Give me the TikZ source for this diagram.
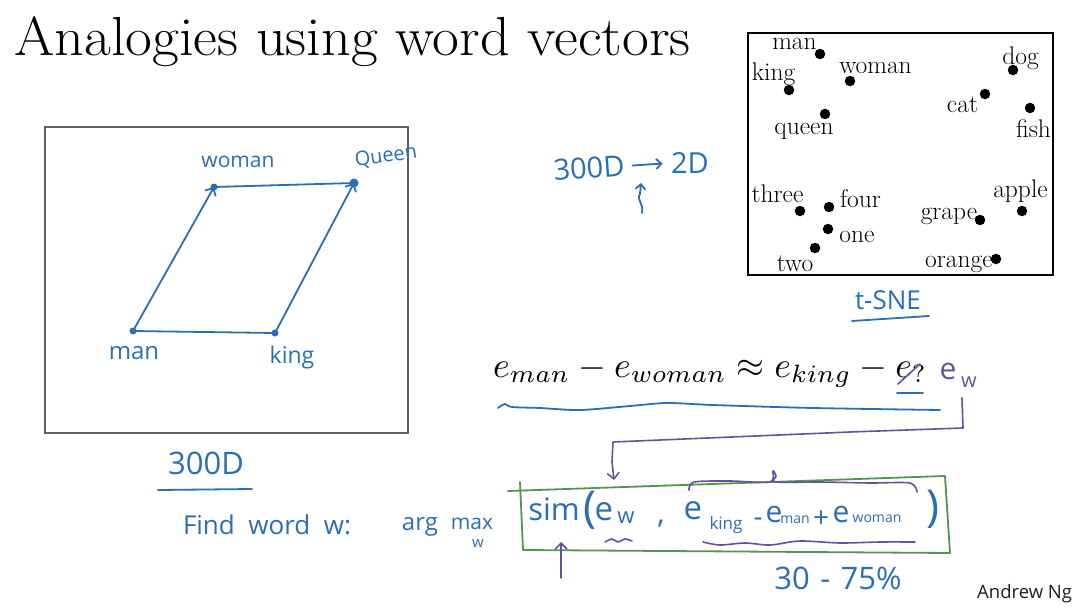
\documentclass[tikz,border=0pt]{standalone}
\usepackage{fontspec}
\newfontfamily\hw{Open Sans}
\usetikzlibrary{arrows.meta}
\definecolor{pen}{RGB}{42,110,180}
\definecolor{purp}{RGB}{100,82,160}
\definecolor{grn}{RGB}{80,152,74}
\definecolor{framegray}{RGB}{95,95,95}
\definecolor{ngray}{RGB}{30,30,30}
\newcommand\fs[1]{\fontsize{#1}{#1}\selectfont}
\tikzset{
  pen/.style={draw=pen, line width=1.8pt, line cap=round, line join=round},
  purpline/.style={draw=purp, line width=1.6pt, line cap=round, line join=round},
  grnline/.style={draw=grn, line width=1.8pt, line cap=round, line join=round},
  hwtext/.style={text=pen, inner sep=0pt},
  hwpurp/.style={text=purp, inner sep=0pt},
  tlabel/.style={font=\fs{25.5}, inner sep=0pt},
  tdot/.style={circle, fill=black, inner sep=0pt, minimum size=10.5pt},
  bdot/.style={circle, fill=pen, inner sep=0pt, minimum size=7pt},
  barb/.style={-{Straight Barb[length=6pt,width=12pt,line width=1.8pt]}},
  pbarb/.style={-{Straight Barb[length=6pt,width=12pt,line width=1.6pt]}},
}
\begin{document}
\begin{tikzpicture}[x=1pt,y=-1pt]
\useasboundingbox (0,0) rectangle (1080,613);
\fill[white] (0,0) rectangle (1080,613);

% title
\node[anchor=base west, inner sep=0pt, font=\fs{55}, xscale=1.06, transform shape] (title) at (14,56) {Analogies using word vectors};

% t-SNE panel
\node[draw=black, line width=2.4pt, minimum width=305pt, minimum height=242pt, inner sep=0pt] (tbox) at (900.5,154) {};
\node[tdot] (d-man) at (820,54) {};
\node[tdot] (d-king) at (789,90) {};
\node[tdot] (d-woman) at (850,81) {};
\node[tdot] (d-queen) at (825,114) {};
\node[tdot] (d-dog) at (1013,70) {};
\node[tdot] (d-cat) at (985,94) {};
\node[tdot] (d-fish) at (1030,108) {};
\node[tdot] (d-three) at (800,211) {};
\node[tdot] (d-four) at (829,207) {};
\node[tdot] (d-one) at (828,229) {};
\node[tdot] (d-two) at (815,248) {};
\node[tdot] (d-apple) at (1022,211) {};
\node[tdot] (d-grape) at (980,220) {};
\node[tdot] (d-orange) at (996,259) {};
\node[tlabel] (l-man) at (794.5,44) {man};
\node[tlabel] (l-king) at (773.5,74) {king};
\node[tlabel] (l-woman) at (875.5,67.5) {woman};
\node[tlabel] (l-queen) at (804,131.5) {queen};
\node[tlabel] (l-dog) at (1020.5,58) {dog};
\node[tlabel] (l-cat) at (962.5,104.5) {cat};
\node[tlabel] (l-fish) at (1033.5,128.5) {fish};
\node[tlabel] (l-three) at (777.5,193.5) {three};
\node[tlabel] (l-four) at (860.5,198.5) {four};
\node[tlabel] (l-one) at (857,236.5) {one};
\node[tlabel] (l-two) at (795,263.5) {two};
\node[tlabel] (l-apple) at (1020.5,191.5) {apple};
\node[tlabel] (l-grape) at (949,216) {grape};
\node[tlabel] (l-orange) at (959,264) {orange};

% t-SNE caption
\node[hwtext, font=\hw\fs{26}] (tsne) at (888,300) {t-SNE};
\coordinate (tsneU1) at (852,321);
\coordinate (tsneU2) at (929,316);
\draw[pen] (tsneU1) -- (tsneU2);

% 300D -> 2D
\node[hwtext, font=\hw\fs{29}, rotate=4] (d300) at (589,168) {300D};
\node[hwtext, font=\hw\fs{29}] (d2) at (690,163) {2D};
\draw[pen, -{Straight Barb[length=5pt,width=10pt,line width=1.8pt]}] (d300.east) ++(8,0) coordinate (arS) -- ++(30,-2) coordinate (arE);
\coordinate (upB) at (642,213);
\coordinate (upT) at (641,183);
\draw[pen, -{Straight Barb[length=5pt,width=10pt,line width=1.8pt]}] (upB) .. controls (644,203) and (636,200) .. (640,194) -- (upT);

% left panel
\node[draw=framegray, line width=1.3pt, minimum width=363pt, minimum height=306pt, inner sep=0pt] (lbox) at (226.5,280) {};
\node[bdot] (p-man) at (133,331) {};
\node[bdot] (p-king) at (275,333) {};
\node[bdot] (p-woman) at (214,187) {};
\node[bdot, minimum size=9pt] (p-queen) at (354,183) {};
\draw[pen, barb] (p-man.center) -- (p-woman.center);
\draw[pen, barb] (p-king.center) -- (p-queen.center);
\draw[pen] (p-woman.center) -- (p-queen.center);
\draw[pen] (p-man.center) -- (p-king.center);
\node[hwtext, font=\hw\fs{21}] (h-woman) at (238,162) {woman};
\node[hwtext, font=\hw\fs{20}, rotate=8] (h-queen) at (386,157) {Queen};
\node[hwtext, font=\hw\fs{24}] (h-man) at (134,353) {man};
\node[hwtext, font=\hw\fs{23}] (h-king) at (292,358) {king};

% equation
\node[anchor=base west, inner sep=0pt] (eq) at (493,377) {\resizebox{434pt}{!}{$e_{man} - e_{woman} \approx e_{king} - e_{?}$}};
\coordinate (strA) at (898,384);
\coordinate (strB) at (920,364);
\draw[purpline] (strA) -- (strB);
\coordinate (qU1) at (897,393);
\coordinate (qU2) at (923,393);
\draw[pen] (qU1) -- (qU2);
\node[hwpurp, font=\hw\fs{30}] (ewp) at (948,371) {e};
\node[hwpurp, font=\hw\fs{20}] (ewpsub) at (969,382) {w};
\draw[pen] plot[smooth] coordinates {(498,408) (505,404) (512,407) (540,408) (580,410) (630,406) (667,403) (713,405) (813,408) (940,410)};

% purple connector to sim box
\coordinate (pc1) at (962,398);
\coordinate (pc2) at (614,480);
\draw[purpline, pbarb] (pc1) -- (963,428) -- (850,432) -- (613,442) -- (612,462) -- (pc2);

% 300D / find word
\node[hwtext, font=\hw\fs{31}] (d300b) at (206,463) {300D};
\coordinate (dU1) at (158,490);
\coordinate (dU2) at (252,489);
\draw[pen] (dU1) -- (dU2);
\node[hwtext, font=\hw\fs{26}] (find) at (267,525) {Find\ \ word\ \ w:};
\node[hwtext, font=\hw\fs{24}] (arg) at (420,527) {arg};
\node[hwtext, font=\hw\fs{21}] (max) at (472,524) {max};
\node[hwtext, font=\hw\fs{15}] (maxsub) at (478,543) {w};

% green box
\coordinate (g1) at (508,491);
\coordinate (g2) at (945,476);
\coordinate (g3) at (950,553);
\coordinate (g4) at (523,550);
\coordinate (g5) at (520,482);
\draw[grnline] (g1) -- (g2) -- (g3) -- (g4) -- (g5);

% sim expression
\node[hwtext, font=\hw\fs{31}] (sim) at (554,509) {sim};
\node[hwtext, font=\hw\fs{44}] (lp) at (590,510) {(};
\node[hwtext, font=\hw\fs{33}] (e1) at (604,512) {e};
\node[hwtext, font=\hw\fs{22}] (e1s) at (626,518) {w};
\node[hwtext, font=\hw\fs{30}] (cm) at (661,524) {,};
\node[hwtext, font=\hw\fs{33}] (e2) at (693,511) {e};
\node[hwtext, font=\hw\fs{17}] (e2s) at (726,525) {king};
\node[hwtext, font=\hw\fs{28}] (mi) at (758,522) {-};
\node[hwtext, font=\hw\fs{30}] (e3) at (774,514) {e};
\node[hwtext, font=\hw\fs{14}] (e3s) at (795,520) {man};
\node[hwtext, font=\hw\fs{28}] (pl) at (821,519) {+};
\node[hwtext, font=\hw\fs{30}] (e4) at (841,514) {e};
\node[hwtext, font=\hw\fs{14}] (e4s) at (877,519) {woman};
\node[hwtext, font=\hw\fs{44}] (rp) at (933,509) {)};

% purple marks on the sim expression
\draw[purpline] plot[smooth] coordinates {(605,542) (612,539) (618,542) (625,539) (632,541)};
\draw[purpline] plot[smooth] coordinates {(689,490) (694,482) (730,481) (770,482) (773,471) (776,476) (776,482) (820,482) (870,483) (910,483) (917,492)};
\draw[purpline] plot[smooth] coordinates {(703,542) (720,545) (745,543) (770,545) (800,541) (840,543) (880,542) (915,542)};
\coordinate (upA) at (561,578);
\coordinate (upZ) at (561,542);
\draw[purpline, pbarb] (upA) -- (upZ);

\node[hwtext, font=\hw\fs{31}] (pct) at (838,578) {30\,\,-\,\,75\%};

\node[anchor=base west, inner sep=0pt, text=ngray, font=\hw\fs{18.5}] (ng) at (977,598) {Andrew Ng};
\end{tikzpicture}
\end{document}
